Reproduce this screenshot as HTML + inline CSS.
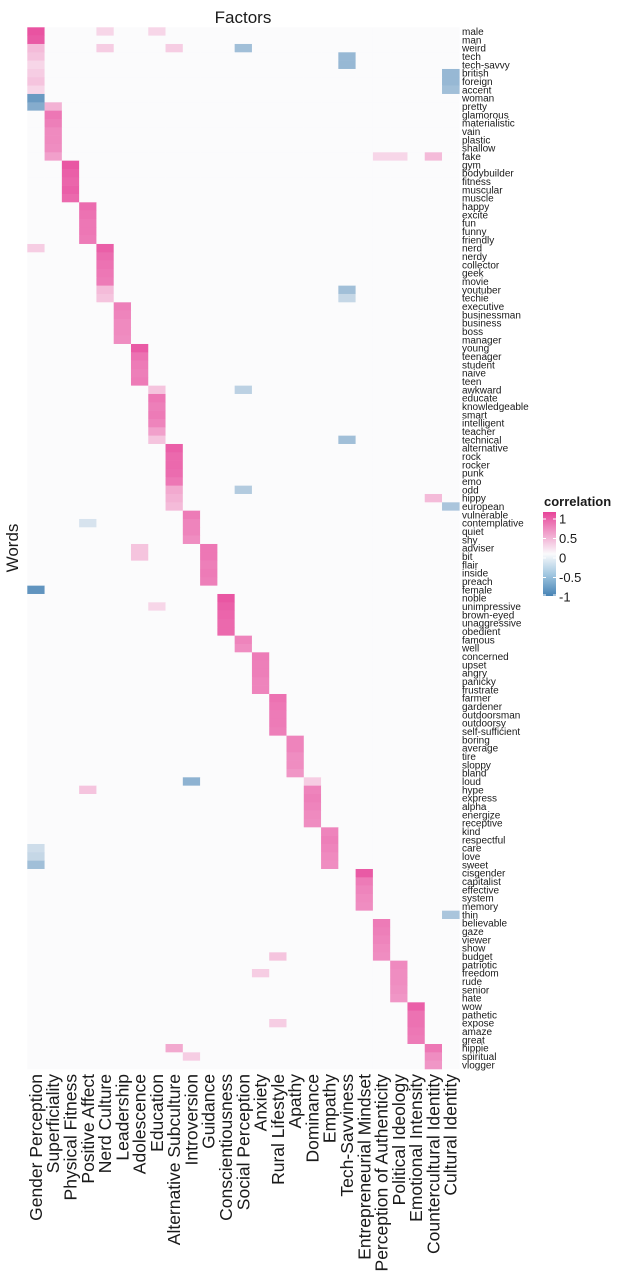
<!DOCTYPE html>
<html><head><meta charset="utf-8">
<style>
html,body{margin:0;padding:0;background:#fff;}
svg{display:block;font-family:"Liberation Sans",Arial,sans-serif;}
</style></head>
<body>
<svg id="chart" width="620" height="1274" viewBox="0 0 620 1274" xmlns="http://www.w3.org/2000/svg">
<defs>
<linearGradient id="cbar" x1="0" y1="0" x2="0" y2="1">
<stop offset="0" stop-color="rgb(231,68,153)"/>
<stop offset="0.25" stop-color="rgb(240,160,203)"/>
<stop offset="0.5" stop-color="rgb(250,250,252)"/>
<stop offset="0.75" stop-color="rgb(160,198,224)"/>
<stop offset="1" stop-color="rgb(70,130,180)"/>
</linearGradient>
</defs>
<text x="243" y="23" font-size="17" text-anchor="middle" fill="#1a1a1a">Factors</text>
<text transform="translate(18,548) rotate(-90)" font-size="17" text-anchor="middle" fill="#1a1a1a">Words</text>
<g id="cells"></g>
<g id="rowlabels"></g>
<g id="collabels"></g>
<g>
<text x="544" y="506" font-size="13" font-weight="bold" fill="#1a1a1a">correlation</text>
<rect x="543" y="512" width="13" height="84" fill="url(#cbar)"/>
<g id="legendticks"></g>
</g>
</svg>
<script>
const words = ["male","man","weird","tech","tech-savvy","british","foreign","accent","woman","pretty","glamorous","materialistic","vain","plastic","shallow","fake","gym","bodybuilder","fitness","muscular","muscle","happy","excite","fun","funny","friendly","nerd","nerdy","collector","geek","movie","youtuber","techie","executive","businessman","business","boss","manager","young","teenager","student","naive","teen","awkward","educate","knowledgeable","smart","intelligent","teacher","technical","alternative","rock","rocker","punk","emo","odd","hippy","european","vulnerable","contemplative","quiet","shy","adviser","bit","flair","inside","preach","female","noble","unimpressive","brown-eyed","unaggressive","obedient","famous","well","concerned","upset","angry","panicky","frustrate","farmer","gardener","outdoorsman","outdoorsy","self-sufficient","boring","average","tire","sloppy","bland","loud","hype","express","alpha","energize","receptive","kind","respectful","care","love","sweet","cisgender","capitalist","effective","system","memory","thin","believable","gaze","viewer","show","budget","patriotic","freedom","rude","senior","hate","wow","pathetic","expose","amaze","great","hippie","spiritual","vlogger"];
const factors = ["Gender Perception","Superficiality","Physical Fitness","Positive Affect","Nerd Culture","Leadership","Adolescence","Education","Alternative Subculture","Introversion","Guidance","Conscientiousness","Social Perception","Anxiety","Rural Lifestyle","Apathy","Dominance","Empathy","Tech-Savviness","Entrepreneurial Mindset","Perception of Authenticity","Political Ideology","Emotional Intensity","Countercultural Identity","Cultural Identity"];
// primary factor (1-based) for each word
const primaryFactor = [1,1,1,1,1,1,1,1,1,2,2,2,2,2,2,2,3,3,3,3,3,4,4,4,4,4,5,5,5,5,5,5,5,6,6,6,6,6,7,7,7,7,7,8,8,8,8,8,8,8,9,9,9,9,9,9,9,9,10,10,10,10,11,11,11,11,11,1,12,12,12,12,12,13,13,14,14,14,14,14,15,15,15,15,15,16,16,16,16,16,17,17,17,17,17,17,18,18,18,18,18,20,20,20,20,20,25,21,21,21,21,21,22,22,22,22,22,23,23,23,23,23,24,24,24];
// loading on primary factor
const primaryValue = [0.92,0.88,0.35,0.3,0.2,0.25,0.3,0.2,-0.8,0.4,0.72,0.68,0.62,0.62,0.6,0.5,0.9,0.85,0.82,0.85,0.8,0.78,0.75,0.72,0.72,0.7,0.85,0.78,0.75,0.72,0.7,0.35,0.3,0.68,0.65,0.62,0.62,0.6,0.88,0.75,0.7,0.68,0.7,0.3,0.72,0.68,0.7,0.65,0.5,0.3,0.85,0.8,0.8,0.78,0.72,0.45,0.4,0.35,0.7,0.65,0.65,0.6,0.72,0.72,0.68,0.7,0.68,-0.85,0.9,0.85,0.82,0.8,0.8,0.65,0.6,0.7,0.68,0.68,0.65,0.65,0.75,0.72,0.7,0.7,0.68,0.65,0.65,0.6,0.6,0.55,0.25,0.65,0.68,0.65,0.62,0.6,0.65,0.68,0.65,0.62,0.6,0.88,0.7,0.65,0.62,0.6,-0.45,0.7,0.68,0.65,0.62,0.6,0.62,0.6,0.6,0.58,0.55,0.85,0.75,0.75,0.72,0.7,0.72,0.6,0.55];
// notable secondary correlations: word row (1-based)
const extraRows = [3,4,5,6,7,8,10,16,16,16,1,1,3,3,32,33,27,44,50,56,57,58,91,101,99,100,123,124,112,63,64,92,60,70,114,120];
// factor column (1-based)
const extraCols = [13,19,19,25,25,25,1,24,22,21,5,8,5,9,19,19,1,13,19,13,24,25,10,1,1,1,9,10,15,7,7,4,4,8,14,15];
// value
const extraVals = [-0.5,-0.55,-0.55,-0.55,-0.55,-0.5,-0.65,0.35,0.2,0.2,0.2,0.2,0.25,0.25,-0.5,-0.3,0.25,-0.35,-0.5,-0.4,0.35,-0.45,-0.6,-0.5,-0.25,-0.3,0.45,0.25,0.3,0.3,0.3,0.3,-0.2,0.2,0.25,0.25];
const legendTicks = [1,0.5,0,-0.5,-1];

const NS = "http://www.w3.org/2000/svg";
const X0 = 27.3, X1 = 459.3, Y0 = 27.3, Y1 = 1069;
const cw = (X1 - X0) / factors.length, rh = (Y1 - Y0) / words.length;
const xPos = c => X0 + c * cw;
const yPos = r => Y0 + r * rh;
const legY = v => 558 - v * 39;

function color(v){
  v = Math.max(-1, Math.min(1, v));
  const w = [251,251,252], p = [231,68,153], b = [70,130,180];
  const t = Math.abs(v), e = v >= 0 ? p : b;
  const c = w.map((a,i) => Math.round(a + (e[i]-a)*t));
  return `rgb(${c[0]},${c[1]},${c[2]})`;
}

const M = words.map(() => factors.map(() => 0));
words.forEach((w,r) => { M[r][primaryFactor[r]-1] = primaryValue[r]; });
extraRows.forEach((r,i) => { M[r-1][extraCols[i]-1] = extraVals[i]; });

const cells = document.getElementById('cells');
M.forEach((row,r) => row.forEach((v,c) => {
  const el = document.createElementNS(NS,'rect');
  el.setAttribute('x', xPos(c).toFixed(2));
  el.setAttribute('y', yPos(r).toFixed(2));
  el.setAttribute('width', (cw+0.3).toFixed(2));
  el.setAttribute('height', (rh+0.3).toFixed(2));
  el.setAttribute('fill', color(v));
  
  
  cells.appendChild(el);
}));

const rl = document.getElementById('rowlabels');
words.forEach((w,r) => {
  const t = document.createElementNS(NS,'text');
  t.setAttribute('x', 462);
  t.setAttribute('y', (yPos(r) + rh/2 + 3.5).toFixed(2));
  t.setAttribute('font-size', '10');
  t.setAttribute('fill', '#1a1a1a');
  t.textContent = w;
  
  
  rl.appendChild(t);
});

const cl = document.getElementById('collabels');
factors.forEach((f,c) => {
  const t = document.createElementNS(NS,'text');
  const cx = xPos(c) + cw/2 + 6;
  t.setAttribute('transform', `translate(${cx.toFixed(2)},1074) rotate(-90)`);
  t.setAttribute('font-size', '17.5');
  t.setAttribute('text-anchor', 'end');
  t.setAttribute('fill', '#1a1a1a');
  t.textContent = f;
  
  
  cl.appendChild(t);
});

const lt = document.getElementById('legendticks');
legendTicks.forEach(v => {
  const y = Math.max(513, Math.min(595, legY(v)));
  const ln = document.createElementNS(NS,'line');
  ln.setAttribute('x1', 543); ln.setAttribute('x2', 546);
  ln.setAttribute('y1', y); ln.setAttribute('y2', y);
  ln.setAttribute('stroke', '#fff');
  
  
  lt.appendChild(ln);
  const ln2 = document.createElementNS(NS,'line');
  ln2.setAttribute('x1', 553); ln2.setAttribute('x2', 556);
  ln2.setAttribute('y1', y); ln2.setAttribute('y2', y);
  ln2.setAttribute('stroke', '#fff');
  
  
  lt.appendChild(ln2);
  const t = document.createElementNS(NS,'text');
  t.setAttribute('x', 559);
  t.setAttribute('y', (legY(v) + 4.5).toFixed(2));
  t.setAttribute('font-size', '13');
  t.setAttribute('fill', '#1a1a1a');
  t.textContent = String(v);
  
  
  lt.appendChild(t);
});
</script>
</body></html>
